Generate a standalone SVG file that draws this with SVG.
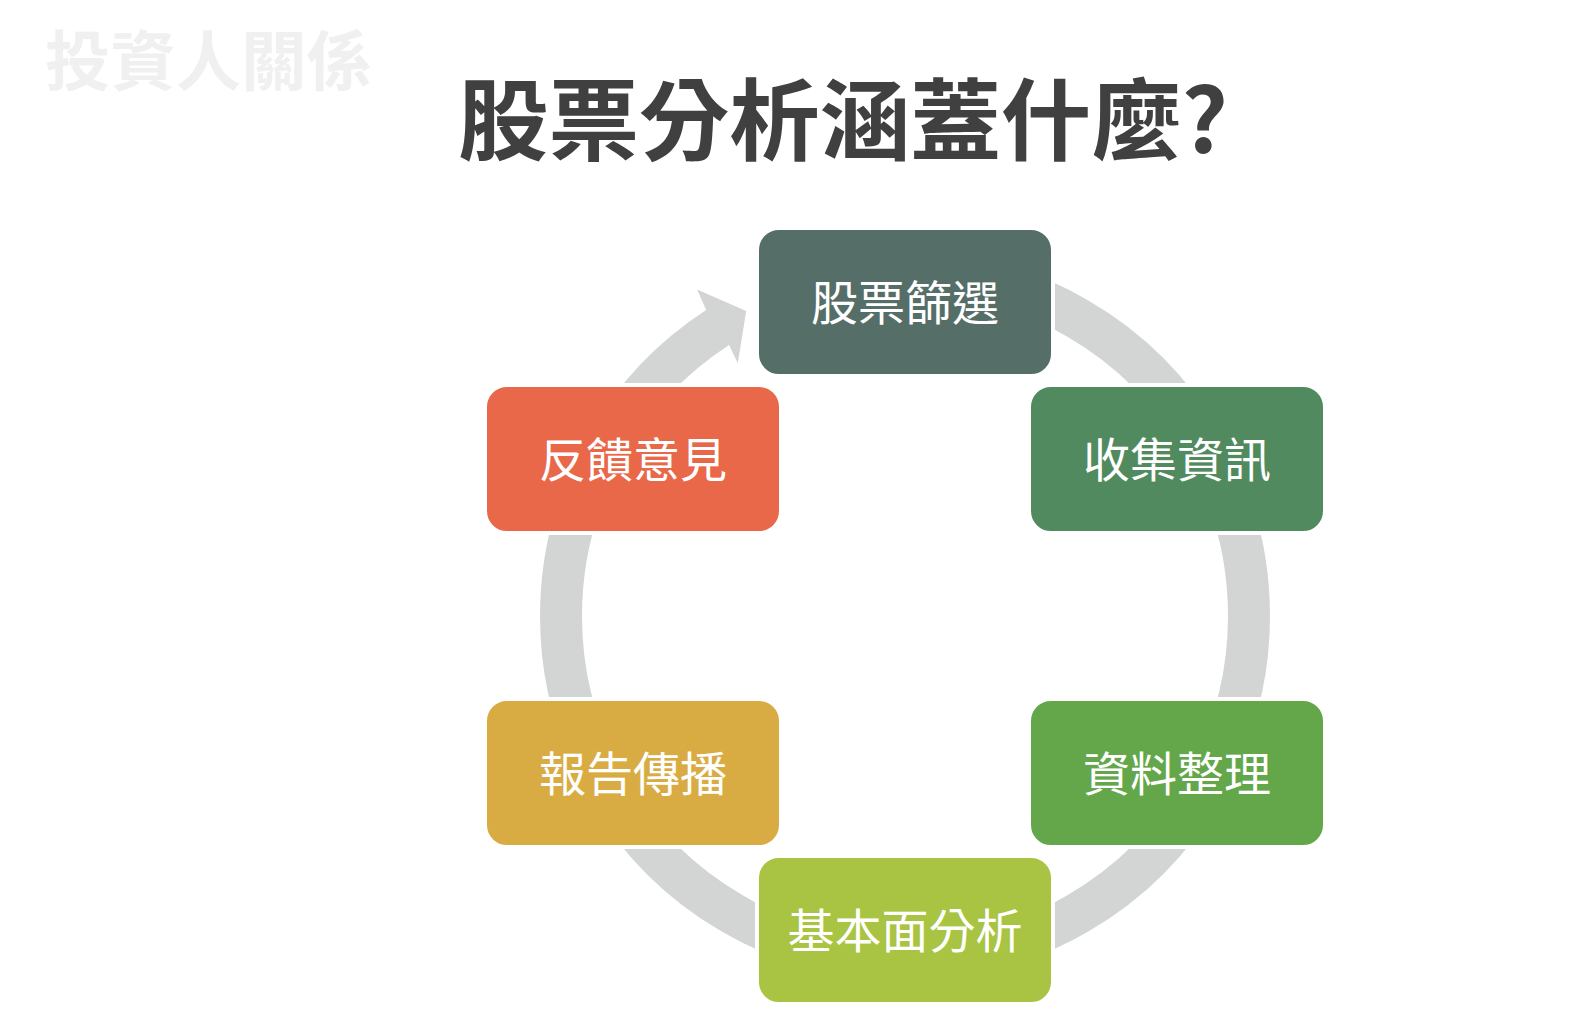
<svg xmlns="http://www.w3.org/2000/svg" width="1580" height="1019" viewBox="0 0 1580 1019">
<style>
.lbl{font-family:"Noto Sans CJK TC","Noto Sans CJK SC",sans-serif;font-size:47px;fill:#FFFFFF;text-anchor:middle}
.box{stroke:#FFFFFF;stroke-width:4}
.ring{fill:none;stroke:#D3D5D4;stroke-width:42}
</style>
<rect width="1580" height="1019" fill="#FFFFFF"/>
<text x="45" y="85" font-family="Noto Sans CJK TC, Noto Sans CJK SC, sans-serif" font-size="65" font-weight="700" fill="#F0F0F0" textLength="327" lengthAdjust="spacingAndGlyphs">投資人關係</text>
<text x="458" y="153" font-family="Noto Sans CJK TC, Noto Sans CJK SC, sans-serif" font-size="89" font-weight="700" fill="#404040" textLength="770" lengthAdjust="spacingAndGlyphs">股票分析涵蓋什麼?</text>
<g id="connectors">
<path class="ring" d="M905 272 A344 344 0 0 1 1202.9 444"/>
<path class="ring" d="M1202.9 444 A344 344 0 0 1 1202.9 788"/>
<path class="ring" d="M1202.9 788 A344 344 0 0 1 905 960"/>
<path class="ring" d="M905 960 A344 344 0 0 1 607.1 788"/>
<path class="ring" d="M607.1 788 A344 344 0 0 1 607.1 444"/>
<path fill="#D3D5D4" d="M588.9 433.5 A365 365 0 0 1 706.2 309.9 L697.1 289.6 L746.2 310.9 L737.8 363.3 L729.1 345.1 A323 323 0 0 0 625.3 454.5 Z"/>
</g>
<g id="node-1"><rect class="box" x="757" y="228" width="296" height="148" rx="22" fill="#566E68"/><text class="lbl" x="905" y="320">股票篩選</text></g>
<g id="node-2"><rect class="box" x="1029" y="385" width="296" height="148" rx="22" fill="#508A5E"/><text class="lbl" x="1177" y="477">收集資訊</text></g>
<g id="node-3"><rect class="box" x="1029" y="699" width="296" height="148" rx="22" fill="#64A74A"/><text class="lbl" x="1177" y="791">資料整理</text></g>
<g id="node-4"><rect class="box" x="757" y="856" width="296" height="148" rx="22" fill="#A9C442"/><text class="lbl" x="905" y="948">基本面分析</text></g>
<g id="node-5"><rect class="box" x="485" y="699" width="296" height="148" rx="22" fill="#D9AC43"/><text class="lbl" x="633" y="791">報告傳播</text></g>
<g id="node-6"><rect class="box" x="485" y="385" width="296" height="148" rx="22" fill="#E9684A"/><text class="lbl" x="633" y="477">反饋意見</text></g>
</svg>
